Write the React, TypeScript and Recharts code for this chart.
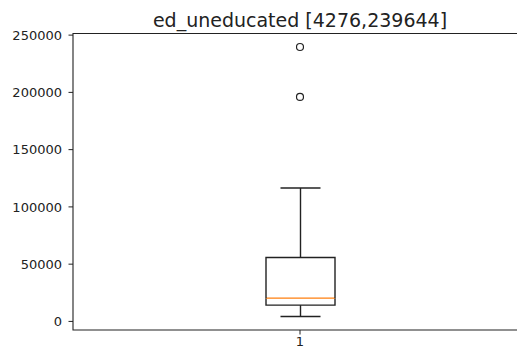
import { ComposedChart, Bar, Line, XAxis, YAxis, ReferenceArea } from 'recharts';

const categories = ['1'];
const whiskerLow = [4276];
const q1 = [14200];
const median = [20300];
const q3 = [55800];
const whiskerHigh = [116500];
const outliers = [196000, 239644];
const yTicks = [0, 50000, 100000, 150000, 200000, 250000];

// matplotlib pads the data range by 5% on each side
const yMin = 4276 - 0.05 * (239644 - 4276);
const yMax = 239644 + 0.05 * (239644 - 4276);

const INK = '#222';
const FONT = '"DejaVu Sans", sans-serif';

// stacked segments: base -> lower whisker -> lower box -> upper box -> upper whisker
const data = categories.map((name, i) => ({
  name,
  base: whiskerLow[i],
  lowWhisker: q1[i] - whiskerLow[i],
  boxLow: median[i] - q1[i],
  boxHigh: q3[i] - median[i],
  highWhisker: whiskerHigh[i] - q3[i],
  out1: outliers[0],
  out2: outliers[1],
}));

const LowWhisker = (props: any) => {
  const { x, y, width, height } = props;
  const cx = x + width / 2;
  const cap = width * 0.29;
  return (
    <g stroke={INK} strokeWidth={1.4}>
      <line x1={cx} x2={cx} y1={y} y2={y + height} />
      <line x1={cx - cap} x2={cx + cap} y1={y + height} y2={y + height} />
    </g>
  );
};

const HighWhisker = (props: any) => {
  const { x, y, width, height } = props;
  const cx = x + width / 2;
  const cap = width * 0.29;
  return (
    <g stroke={INK} strokeWidth={1.4}>
      <line x1={cx} x2={cx} y1={y} y2={y + height} />
      <line x1={cx - cap} x2={cx + cap} y1={y} y2={y} />
    </g>
  );
};

const BoxLow = (props: any) => {
  const { x, y, width, height } = props;
  return (
    <g strokeWidth={1.4}>
      <path d={`M${x},${y} V${y + height} H${x + width} V${y}`} fill="none" stroke={INK} />
      <line x1={x} x2={x + width} y1={y} y2={y} stroke="#ff7f0e" />
    </g>
  );
};

const BoxHigh = (props: any) => {
  const { x, y, width, height } = props;
  return (
    <path
      d={`M${x},${y + height} V${y} H${x + width} V${y + height}`}
      fill="none"
      stroke={INK}
      strokeWidth={1.4}
    />
  );
};

const Flier = (props: any) => {
  const { cx, cy } = props;
  if (cx == null || cy == null) return null;
  return <circle cx={cx} cy={cy} r={3.5} fill="none" stroke={INK} strokeWidth={1.2} />;
};

export default function App() {
  return (
    <div style={{ position: 'absolute', left: 0, top: 0, width: 517, height: 349, overflow: 'hidden', background: '#fff' }}>
      <div
        style={{
          position: 'absolute',
          left: 73,
          width: 454,
          top: 9,
          textAlign: 'center',
          fontFamily: FONT,
          fontSize: 19,
          color: INK,
          whiteSpace: 'nowrap',
        }}
      >
        ed_uneducated [4276,239644]
      </div>
      <ComposedChart
        width={527}
        height={349}
        data={data}
        margin={{ top: 33.5, right: 0, bottom: 0, left: 0 }}
      >
        <XAxis
          dataKey="name"
          height={19}
          axisLine={false}
          tickSize={4.5}
          tickMargin={2.5}
          tickLine={{ stroke: INK }}
          tick={{ fill: INK, fontSize: 13, fontFamily: FONT }}
        />
        <YAxis
          type="number"
          width={73}
          domain={[yMin, yMax]}
          ticks={yTicks}
          allowDataOverflow
          axisLine={false}
          tickSize={4.5}
          tickMargin={6.5}
          tickLine={{ stroke: INK }}
          tick={{ fill: INK, fontSize: 13, fontFamily: FONT }}
        />
        <ReferenceArea y1={yMin} y2={yMax} fill="none" stroke={INK} strokeWidth={1.1} ifOverflow="visible" />
        <Bar dataKey="base" stackId="a" fill="transparent" barSize={69} isAnimationActive={false} />
        <Bar dataKey="lowWhisker" stackId="a" barSize={69} shape={LowWhisker} isAnimationActive={false} />
        <Bar dataKey="boxLow" stackId="a" barSize={69} shape={BoxLow} isAnimationActive={false} />
        <Bar dataKey="boxHigh" stackId="a" barSize={69} shape={BoxHigh} isAnimationActive={false} />
        <Bar dataKey="highWhisker" stackId="a" barSize={69} shape={HighWhisker} isAnimationActive={false} />
        <Line dataKey="out1" stroke="none" dot={Flier} activeDot={false} isAnimationActive={false} />
        <Line dataKey="out2" stroke="none" dot={Flier} activeDot={false} isAnimationActive={false} />
      </ComposedChart>
    </div>
  );
}
